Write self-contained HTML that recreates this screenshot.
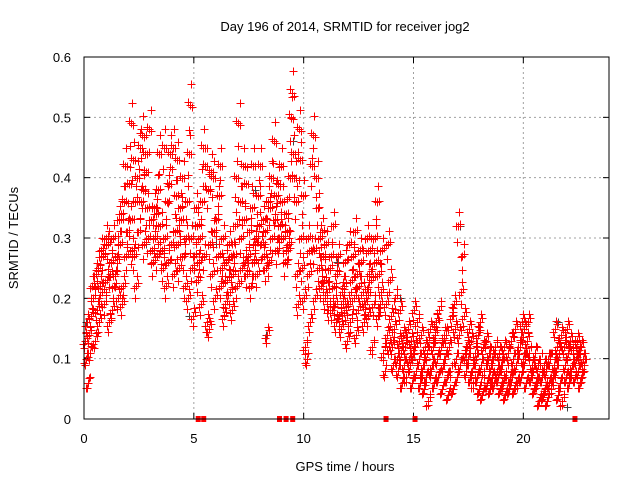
<!DOCTYPE html>
<html><head><meta charset="utf-8"><style>
body{margin:0;background:#fff;}
svg{display:block;font-family:"Liberation Sans",Arial,sans-serif;}
#red path,#grey path{shape-rendering:crispEdges;}
</style></head><body>
<svg id="chart" width="640" height="480">
<text x="345" y="31" font-size="13" text-anchor="middle">Day 196 of 2014, SRMTID for receiver jog2</text>
<text x="0" y="0" font-size="13" text-anchor="middle" transform="translate(18,238) rotate(-90)">SRMTID / TECUs</text>
<text x="345" y="471" font-size="13" text-anchor="middle">GPS time / hours</text>
<g id="grid"></g>
<g id="ticks"></g>
<g id="grey"></g>
<g id="red"></g>
<rect x="84" y="57" width="525" height="362" fill="none" stroke="#000" stroke-width="1"/>
</svg>
<script>
const xTicks=[0,5,10,15,20];
const yTicks=[0,0.1,0.2,0.3,0.4,0.5,0.6];
const yTickLabels=["0","0.1","0.2","0.3","0.4","0.5","0.6"];
const times=[0.1,0.3,0.5,0.7,0.9,1.1,1.3,1.5,1.7,1.9,2.1,2.3,2.5,2.7,2.9,3.1,3.3,3.5,3.7,3.9,4.1,4.3,4.5,4.7,4.9,5.1,5.3,5.5,5.7,5.9,6.1,6.3,6.5,6.7,6.9,7.1,7.3,7.5,7.7,7.9,8.1,8.3,8.5,8.7,8.9,9.1,9.3,9.5,9.7,9.9,10.1,10.3,10.5,10.7,10.9,11.1,11.3,11.5,11.7,11.9,12.1,12.3,12.5,12.7,12.9,13.1,13.3,13.5,13.7,13.9,14.1,14.3,14.5,14.7,14.9,15.1,15.3,15.5,15.7,15.9,16.1,16.3,16.5,16.7,16.9,17.1,17.3,17.5,17.7,17.9,18.1,18.3,18.5,18.7,18.9,19.1,19.3,19.5,19.7,19.9,20.1,20.3,20.5,20.7,20.9,21.1,21.3,21.5,21.7,21.9,22.1,22.3,22.5,22.7];
const redA=[.13,.14,.20,.25,.21,.23,.26,.24,.29,.36,.39,.43,.40,.47,.41,.33,.30,.44,.45,.26,.45,.43,.33,.30,.52,.27,.26,.45,.38,.24,.33,.22,.19,.21,.27,.49,.42,.24,.35,.30,.42,.31,.26,.46,.39,.36,.31,.50,.36,.43,.20,.24,.47,.35,.31,.29,.27,.19,.17,.22,.19,.27,.24,.26,.20,.28,.30,.24,.11,.29,.12,.10,.11,.12,.09,.18,.10,.09,.11,.09,.16,.12,.10,.12,.19,.32,.27,.12,.13,.10,.16,.08,.11,.10,.07,.09,.08,.13,.15,.12,.15,.16,.08,.06,.07,.08,.10,.15,.11,.12,.11,.09,.13,.12];
const redB=[.10,.11,.13,.16,.27,.29,.18,.27,.34,.42,.33,.27,.31,.38,.35,.28,.34,.32,.30,.39,.24,.29,.40,.36,.30,.35,.30,.27,.15,.40,.27,.25,.26,.27,.32,.36,.33,.27,.42,.24,.29,.25,.35,.33,.30,.30,.28,.54,.24,.30,.12,.16,.28,.25,.27,.21,.18,.16,.15,.26,.29,.20,.18,.21,.30,.23,.26,.19,.08,.12,.09,.08,.06,.07,.13,.12,.06,.05,.03,.12,.10,.05,.14,.08,.15,.14,.17,.10,.08,.07,.09,.13,.05,.06,.11,.06,.11,.07,.09,.07,.10,.11,.05,.09,.04,.03,.05,.08,.06,.09,.06,.12,.08,.07];
const redC=[.16,.17,.24,.22,.19,.16,.30,.20,.19,.27,.49,.36,.45,.29,.30,.26,.27,.28,.22,.44,.31,.25,.27,.20,.25,.32,.19,.42,.29,.31,.37,.30,.23,.18,.40,.30,.26,.31,.26,.37,.33,.14,.40,.37,.32,.26,.29,.44,.19,.25,.10,.28,.20,.30,.23,.18,.32,.24,.21,.18,.16,.31,.22,.16,.17,.12,.36,.21,.19,.23,.15,.13,.14,.15,.06,.08,.14,.12,.15,.06,.07,.09,.07,.17,.10,.09,.11,.15,.06,.14,.04,.06,.09,.12,.05,.12,.05,.10,.06,.16,.06,.07,.11,.03,.09,.10,.07,.12,.14,.07,.13,.07,.11,.10];
const redD=[.06,.22,.18,.28,.30,.24,.22,.33,.22,.31,.28,.22,.36,.44,.48,.35,.38,.25,.36,.29,.37,.35,.22,.44,.17,.23,.36,.16,.41,.20,.42,.17,.29,.24,.22,.25,.39,.22,.29,.32,.27,.36,.30,.28,.42,.34,.40,.40,.48,.37,.30,.42,.40,.22,.20,.25,.22,.27,.19,.13,.23,.14,.28,.19,.24,.19,.17,.28,.14,.17,.20,.18,.09,.10,.11,.16,.08,.07,.08,.14,.18,.14,.04,.05,.07,.21,.08,.07,.11,.05,.12,.10,.07,.08,.09,.04,.07,.05,.12,.10,.13,.09,.06,.10,.05,.06,.09,.04,.03,.15,.08,.10,.06,.09];
const greyT=[0.1,2.8,3.5,4.8,6.0,7.8,8.3,9.5,11.5,14.4,17.1,21.6,22.0];
const greyV=[0.16,0.29,0.44,0.17,0.29,0.38,0.14,0.46,0.26,0.20,0.32,0.16,0.02];
const zeroT=[5.2,5.45,8.9,9.2,9.5,13.75,15.07,22.35];

const X0=84,X1=609,XMAX=23.9,Y0=419,Y1=57,YMAX=0.6;
const sx=t=>X0+(X1-X0)*t/XMAX;
const sy=v=>Y0-(Y0-Y1)*v/YMAX;
const NS="http://www.w3.org/2000/svg";
function mk(tag,attrs,parent){const e=document.createElementNS(NS,tag);for(const k in attrs)e.setAttribute(k,attrs[k]);parent.appendChild(e);return e;}
const grid=document.getElementById('grid'),ticks=document.getElementById('ticks');
xTicks.forEach((t,i)=>{
  const x=sx(t);
  if(t>0){const g=mk('line',{x1:x,x2:x,y1:Y1,y2:Y0,stroke:'#a0a0a0','stroke-dasharray':'2,3'},grid);
  
  }
  mk('line',{x1:x,x2:x,y1:Y0,y2:Y0-6,stroke:'#000'},ticks);
  mk('line',{x1:x,x2:x,y1:Y1,y2:Y1+6,stroke:'#000'},ticks);
  const l=mk('text',{x:x,y:443,'font-size':13,'text-anchor':'middle'},ticks);l.textContent=t;
  
  
});
yTicks.forEach((v,i)=>{
  const y=sy(v);
  if(v>0&&v<YMAX){const g=mk('line',{x1:X0,x2:X1,y1:y,y2:y,stroke:'#a0a0a0','stroke-dasharray':'2,3'},grid);
  
  }
  mk('line',{x1:X0,x2:X0+6,y1:y,y2:y,stroke:'#000'},ticks);
  mk('line',{x1:X1,x2:X1-6,y1:y,y2:y,stroke:'#000'},ticks);
  const l=mk('text',{x:71,y:y+5,'font-size':13,'text-anchor':'end'},ticks);l.textContent=yTickLabels[i];
  
  
});
function plus(t,v,col,parent){
  const x=Math.round(sx(t))+0.5,y=Math.round(sy(v))+0.5;
  const p=mk('path',{d:`M${x-4},${y}H${x+4}M${x},${y-4}V${y+4}`,stroke:col,'stroke-width':1,fill:'none'},parent);
  
  
}
const grey=document.getElementById('grey'),red=document.getElementById('red');
greyT.forEach((t,i)=>plus(t,greyV[i],'#404040',grey));
const offs=[-0.07,-0.02,0.03,0.08];
const copies=[[0,1,0],[0.05,1.06,0.004],[-0.04,0.93,-0.004],[0.09,0.97,0.012],[-0.09,1.03,-0.01]];
[redA,redB,redC,redD].forEach((arr,k)=>arr.forEach((v,i)=>{
  copies.forEach(c=>plus(times[i]+offs[k]+c[0],v*c[1]+c[2],'#ff0000',red));
}));
zeroT.forEach(t=>{
  const r=mk('rect',{x:sx(t)-2.5,y:Y0-3,width:5,height:6,fill:'#ff0000'},red);
  
  
});
</script>
</body></html>
